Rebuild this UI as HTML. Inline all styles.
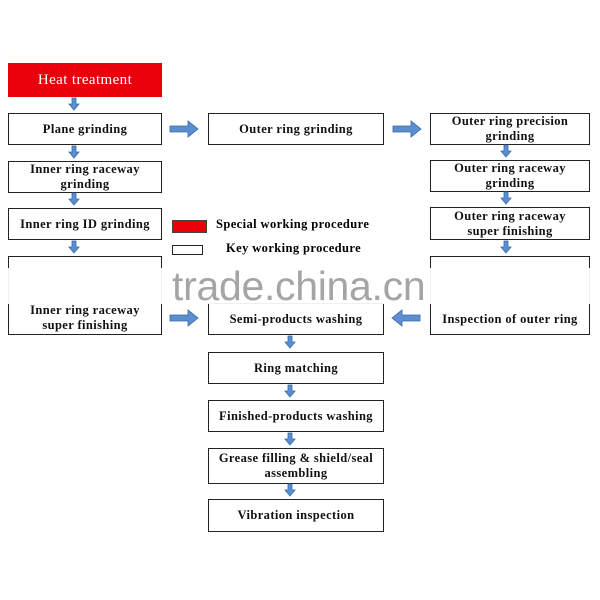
<!DOCTYPE html>
<html><head><style>
body{margin:0;width:600px;height:600px;background:#fff;position:relative;overflow:hidden;font-family:"Liberation Serif",serif;}
.b{position:absolute;border:1.5px solid #222;background:#fff;box-sizing:border-box;display:flex;align-items:center;justify-content:center;text-align:center;font-size:12.5px;font-weight:bold;line-height:15px;color:#111;letter-spacing:0.4px;}
svg{position:absolute;left:0;top:0;}
</style></head><body>
<div class="b" style="left:8px;top:63px;width:154px;height:34px;background:#e8000b;border-color:#e8000b;color:#fff;font-weight:normal;font-size:15px;">Heat treatment</div>
<div class="b" style="left:8px;top:113px;width:154px;height:32px;">Plane grinding</div>
<div class="b" style="left:8px;top:161px;width:154px;height:32px;">Inner ring raceway<br>grinding</div>
<div class="b" style="left:8px;top:208px;width:154px;height:32px;">Inner ring ID grinding</div>
<div class="b" style="left:8px;top:256px;width:154px;height:79px;align-items:flex-end;padding-bottom:1px;">Inner ring raceway<br>super finishing</div>
<div class="b" style="left:208px;top:113px;width:176px;height:32px;">Outer ring grinding</div>
<div class="b" style="left:208px;top:303px;width:176px;height:32px;">Semi-products washing</div>
<div class="b" style="left:208px;top:352px;width:176px;height:32px;">Ring matching</div>
<div class="b" style="left:208px;top:400px;width:176px;height:32px;">Finished-products washing</div>
<div class="b" style="left:208px;top:448px;width:176px;height:36px;">Grease filling &amp; shield/seal<br>assembling</div>
<div class="b" style="left:208px;top:499px;width:176px;height:33px;">Vibration inspection</div>
<div class="b" style="left:430px;top:113px;width:160px;height:32px;">Outer ring precision<br>grinding</div>
<div class="b" style="left:430px;top:160px;width:160px;height:32px;">Outer ring raceway<br>grinding</div>
<div class="b" style="left:430px;top:207px;width:160px;height:33px;">Outer ring raceway<br>super finishing</div>
<div class="b" style="left:430px;top:256px;width:160px;height:79px;align-items:flex-end;padding-bottom:7px;">Inspection of outer ring</div>
<div style="position:absolute;left:0;top:268px;width:600px;height:36px;background:rgba(255,255,255,0.93);"></div>
<div style="position:absolute;left:172px;top:263px;font-family:'Liberation Sans',sans-serif;font-size:41px;color:#a5a5a5;letter-spacing:-0.3px;">trade.china.cn</div>
<div style="position:absolute;left:172px;top:220px;width:33px;height:11px;background:#e8000b;border:1px solid #444;"></div>
<div style="position:absolute;left:172px;top:245px;width:29px;height:8px;border:1px solid #222;background:#fff;"></div>
<div style="position:absolute;left:216px;top:217px;font-size:12.5px;font-weight:bold;letter-spacing:0.4px;">Special working procedure</div>
<div style="position:absolute;left:226px;top:241px;font-size:12.5px;font-weight:bold;letter-spacing:0.4px;">Key working procedure</div>
<svg width="600" height="600">
<defs>
<g id="dn"><path d="M-2,-7 h4 v6 h3 l-5,6 l-5,-6 h3z" fill="#5b8fd0" stroke="#3a6aa8" stroke-width="0.8"/></g>
<g id="rt"><path d="M-14,-3 h18 v-5 l10,8 l-10,8 v-5 h-18z" fill="#5b8fd0" stroke="#3a6aa8" stroke-width="0.8"/></g>
</defs>
<use href="#dn" x="74" y="105"/><use href="#dn" x="74" y="153"/><use href="#dn" x="74" y="200"/><use href="#dn" x="74" y="248"/>
<use href="#dn" x="506" y="152"/><use href="#dn" x="506" y="199"/><use href="#dn" x="506" y="248"/>
<use href="#dn" x="290" y="343"/><use href="#dn" x="290" y="392"/><use href="#dn" x="290" y="440"/><use href="#dn" x="290" y="491"/>
<use href="#rt" x="184" y="129"/><use href="#rt" x="407" y="129"/><use href="#rt" x="184" y="318"/>
<use href="#rt" transform="translate(406,318) scale(-1,1)"/>
</svg>
</body></html>
